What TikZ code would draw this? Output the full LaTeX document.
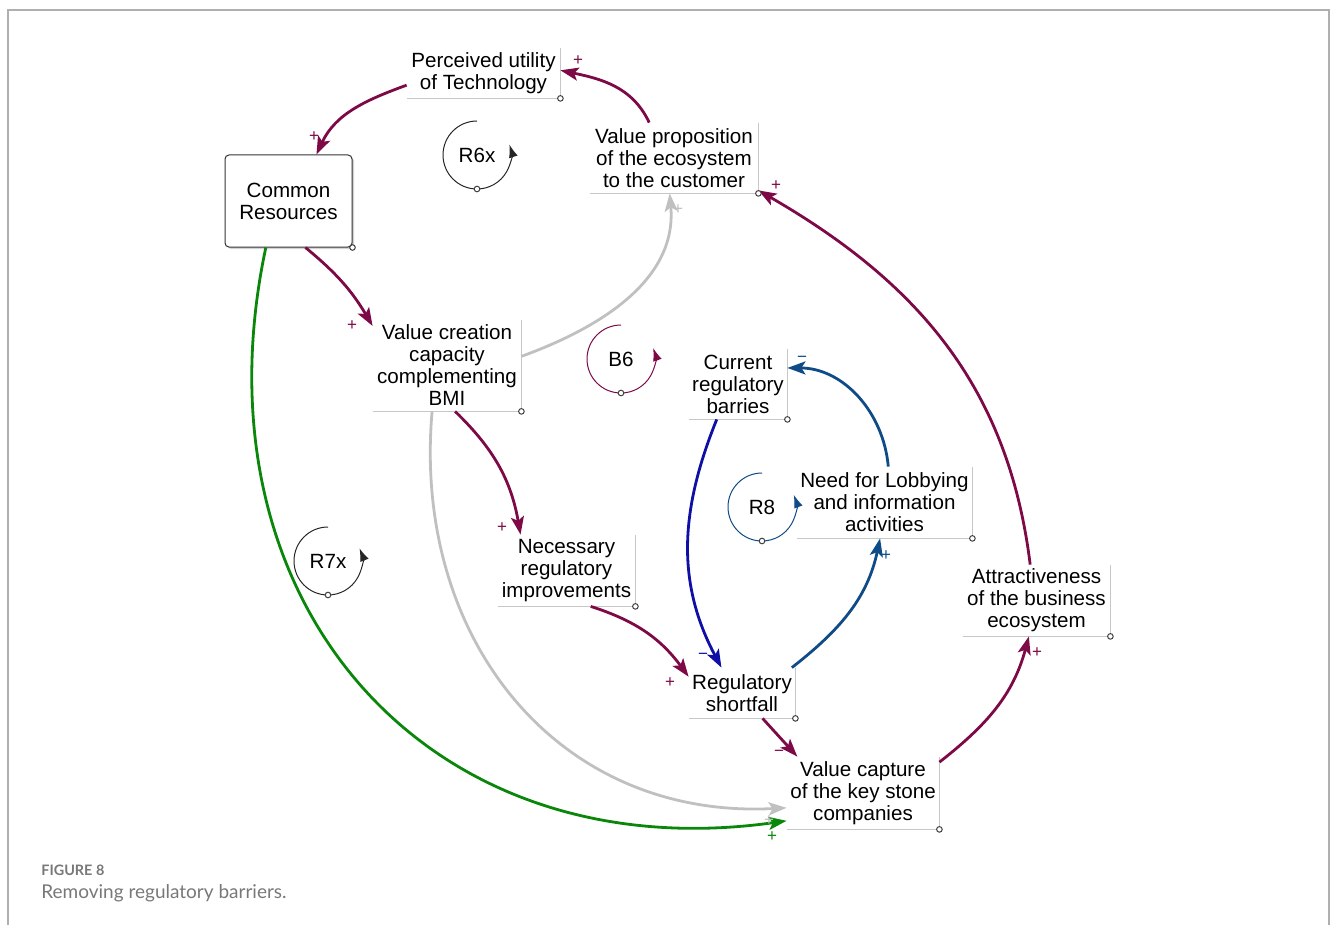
\documentclass[tikz,border=0pt]{standalone}
\usepackage{fontspec}
\setmainfont{Liberation Sans}
\newfontfamily\capfont{Lato}
\usetikzlibrary{arrows.meta,shadows}
\definecolor{wine}{RGB}{125,10,70}
\definecolor{pale}{RGB}{192,192,192}
\definecolor{leaf}{RGB}{10,135,10}
\definecolor{deepblue}{RGB}{15,15,165}
\definecolor{steel}{RGB}{15,75,135}
\definecolor{capgray}{RGB}{120,120,120}
\definecolor{rulegray}{RGB}{175,175,175}

\begin{document}
\begin{tikzpicture}[x=0.5pt, y=0.5pt,
  var/.style={inner sep=0pt, align=center, font=\fontsize{10.3}{11}\selectfont},
  link/.style={-{Stealth[length=9pt,width=6.5pt,inset=2pt]}, line width=1.4pt},
  sgn/.style={inner sep=0pt, font=\fontsize{8.5}{8.5}\selectfont},
  loopc/.style={-{Latex[length=6.5pt,width=4.5pt]}, line width=0.5pt},
  boxline/.style={draw=black!22, line width=0.8pt},
  dot/.style={draw=black!75, fill=white, line width=0.5pt}]
  \useasboundingbox (0,0) rectangle (1331,-925);
  \draw[rulegray, line width=0.8pt] (8,-925) -- (8,-10) -- (1329,-10) -- (1329,-925);

  % variables
  \node[var, minimum width=76.5pt, minimum height=25pt] (pu) at (483.5,-73) {Perceived utility\\of Technology};
  \node[var, minimum width=84pt, minimum height=35pt] (vp) at (674,-158) {Value proposition\\of the ecosystem\\to the customer};
  \node[var, fill=white, draw=black!80, line width=0.5pt, rounded corners=2pt, minimum width=63.5pt, minimum height=46pt,
        drop shadow={shadow xshift=1pt, shadow yshift=-1pt, opacity=0.35}] (cr) at (288.5,-201) {Common\\Resources};
  \node[var, minimum width=74pt, minimum height=45.5pt] (vc) at (447,-365.5) {Value creation\\capacity\\complementing\\BMI};
  \node[var, minimum width=49pt, minimum height=35pt] (cb) at (738,-384) {Current\\regulatory\\barries};
  \node[var, minimum width=87.5pt, minimum height=35.5pt] (nl) at (884.5,-502.5) {Need for Lobbying\\and information\\activities};
  \node[var, minimum width=68.5pt, minimum height=35.5pt] (nr) at (566.5,-570.5) {Necessary\\regulatory\\improvements};
  \node[var, minimum width=73.5pt, minimum height=35.5pt] (at) at (1036.5,-600.5) {Attractiveness\\of the business\\ecosystem};
  \node[var, minimum width=53pt, minimum height=25pt] (rs) at (742,-693) {Regulatory\\shortfall};
  \node[var, minimum width=76pt, minimum height=36pt] (vk) at (863,-793) {Value capture\\of the key stone\\companies};
  \foreach \n in {pu,vp,vc,cb,nl,nr,at,rs,vk}
    \draw[boxline] (\n.south west) -- (\n.south east) -- (\n.north east);

  % loops
  \node[var] (r6x) at (477,-155) {R6x};
  \node[var] (b6) at (621,-359) {B6};
  \node[var] (r8) at (762,-507) {R8};
  \node[var] (r7x) at (328,-561) {R7x};
  \draw[loopc, black!85] (r6x.center) ++(0,34) arc[start angle=90, end angle=378, radius=34];
  \draw[loopc, wine] (b6.center) ++(0,34) arc[start angle=90, end angle=379, radius=34];
  \draw[loopc, steel] (r8.center) ++(0,34) arc[start angle=90, end angle=381, radius=34];
  \draw[loopc, black!85] (r7x.center) ++(0,34) arc[start angle=90, end angle=382, radius=34];

  % links
  \draw[link, wine] (pu.189) to[out=200, in=65] (cr.59);
  \draw[link, wine] (vp.125) to[out=115, in=-12] (pu.2);
  \draw[link, wine] (cr.-70) to[bend left=10] (vc.152);
  \draw[link, pale] (vc.7) to[out=20, in=-85] (vp.-97);
  \draw[link, pale] (vc.-108) to[out=-95, in=183, looseness=1.1] (vk.191);
  \draw[link, leaf] (cr.-116) to[out=-102, in=188, looseness=1.2] (vk.200);
  \draw[link, wine] (vc.-80) to[bend left=18] (nr.142);
  \draw[link, wine] (nr.-56) to[bend left=18] (rs.163);
  \draw[link, deepblue] (cb.-121) to[out=-112, in=118] (rs.129);
  \draw[link, steel] (rs.27) to[out=38, in=-102] (nl.-97);
  \draw[link, steel] (nl.84) to[out=95, in=0] (cb.18);
  \draw[link, wine] (rs.-51) -- (vk.151);
  \draw[link, wine] (vk.22) to[out=38, in=-105] (at.-102);
  \draw[link, wine] (at.100) to[out=97, in=-30] (vp.-21);

  % polarities
  \node[sgn, wine] (s1) at (314,-137) {+};
  \node[sgn, wine] (s2) at (578,-61) {+};
  \node[sgn, wine] (s3) at (352,-326) {+};
  \node[sgn, pale] (s4) at (678,-210) {+};
  \node[sgn, pale] (s5) at (769,-821) {+};
  \node[sgn, leaf] (s6) at (772,-837) {+};
  \node[sgn, wine] (s7) at (502,-528) {+};
  \node[sgn, wine] (s8) at (670,-683) {+};
  \node[sgn, deepblue] (s9) at (703,-656) {−};
  \node[sgn, steel] (s10) at (886,-556) {+};
  \node[sgn, steel] (s11) at (802,-359) {−};
  \node[sgn, wine] (s12) at (779,-753) {−};
  \node[sgn, wine] (s13) at (1037,-653) {+};
  \node[sgn, wine] (s14) at (776,-186) {+};

  \foreach \n in {pu,vp,cr,vc,cb,nl,nr,at,rs,vk}
    \draw[dot] (\n.south east) circle (2.8);
  \foreach \n in {r6x,b6,r8,r7x}
    \draw[dot] (\n.center) ++(0,-34) circle (2.8);

  % caption
  \node[anchor=west, inner sep=0pt, text=capgray, font=\capfont\bfseries\fontsize{7.2}{8}\selectfont] (fig) at (41,-870) {FIGURE 8};
  \node[anchor=west, inner sep=0pt, text=capgray, font=\capfont\fontsize{9.5}{10}\selectfont] (cap) at (41,-893) {Removing regulatory barriers.};
\end{tikzpicture}
\end{document}
